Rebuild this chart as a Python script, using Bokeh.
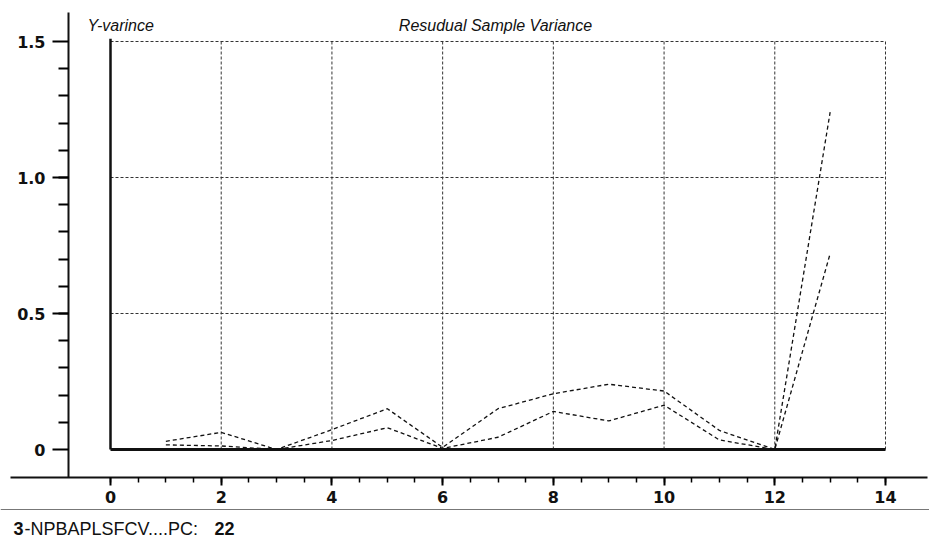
import numpy as np
from bokeh.plotting import figure
from bokeh.models import Range1d, FixedTicker, Label, Span
from bokeh.embed import file_html
from bokeh.resources import INLINE

# ---- data ----
components = [1, 2, 3, 4, 5, 6, 7, 8, 9, 10, 11, 12, 13]
variance_upper = [0.030, 0.063, 0.000, 0.073, 0.150, 0.008, 0.150, 0.205, 0.240, 0.215, 0.070, 0.000, 1.240]
variance_lower = [0.017, 0.013, 0.000, 0.033, 0.080, 0.004, 0.045, 0.140, 0.105, 0.163, 0.035, 0.000, 0.720]
x_major_ticks = [0, 2, 4, 6, 8, 10, 12, 14]
y_major_ticks = [0, 0.5, 1.0, 1.5]
y_tick_labels = ["0", "0.5", "1.0", "1.5"]
x_grid_ticks = [2, 4, 6, 8, 10, 12, 14]
y_grid_ticks = [0.5, 1.0, 1.5]
X_MIN, X_MAX = 0, 14
Y_MIN, Y_MAX = 0, 1.5

# ---- layout (pixels) ----
W, H = 929, 539
X0PX, X1PX = 110, 885
Y0PX, Y1PX = 449, 41
sx = (X1PX - X0PX) / (X_MAX - X_MIN)
sy = (Y0PX - Y1PX) / (Y_MAX - Y_MIN)

def dx(px):
    return (px - X0PX) / sx

def dy(py):
    return (Y0PX - py) / sy

p = figure(width=W, height=H, output_backend="svg", toolbar_location=None,
           x_range=Range1d(dx(0), dx(W)), y_range=Range1d(dy(H), dy(0)),
           min_border=0, min_border_left=0, min_border_right=0,
           min_border_top=0, min_border_bottom=0)
p.outline_line_color = None
p.grid.visible = False
p.background_fill_color = "white"
p.border_fill_color = "white"

x_axis_y = dy(477)
y_axis_x = dx(68)
TICK_FONT = "DejaVu Sans"

# x axis
xa = p.xaxis[0]
xa.fixed_location = x_axis_y
xa.bounds = (dx(10), dx(927))
xa.ticker = FixedTicker(ticks=x_major_ticks,
                        minor_ticks=[t / 2 for t in range(0, 29)])
xa.axis_line_width = 2
xa.axis_line_color = "#111111"
xa.major_tick_line_width = 2
xa.minor_tick_line_width = 1.5
xa.major_tick_out = 8
xa.major_tick_in = 0
xa.minor_tick_out = 5
xa.minor_tick_in = 0
xa.major_label_standoff = 5
xa.major_label_text_font = TICK_FONT
xa.major_label_text_font_style = "bold"
xa.major_label_text_font_size = "16px"
xa.major_label_text_color = "#111111"

# y axis
ya = p.yaxis[0]
ya.fixed_location = y_axis_x
ya.bounds = (x_axis_y, dy(12))
minor_y = [round(v, 1) for v in np.arange(0.1, 1.45, 0.1)]
ya.ticker = FixedTicker(ticks=y_major_ticks, minor_ticks=minor_y)
ya.major_label_overrides = {t: l for t, l in zip(y_major_ticks, y_tick_labels)}
ya.axis_line_width = 2
ya.axis_line_color = "#111111"
ya.major_tick_line_width = 2
ya.minor_tick_line_width = 2
ya.major_tick_out = 16
ya.major_tick_in = 0
ya.minor_tick_out = 10
ya.minor_tick_in = 0
ya.major_label_standoff = 7
ya.major_label_text_font = TICK_FONT
ya.major_label_text_font_style = "bold"
ya.major_label_text_font_size = "16px"
ya.major_label_text_color = "#111111"

# dashed grid
p.segment(x0=x_grid_ticks, y0=[Y_MIN] * len(x_grid_ticks),
          x1=x_grid_ticks, y1=[Y_MAX] * len(x_grid_ticks),
          line_color="#333333", line_width=1, line_dash="3 2")
p.segment(x0=[X_MIN] * len(y_grid_ticks), y0=y_grid_ticks,
          x1=[X_MAX] * len(y_grid_ticks), y1=y_grid_ticks,
          line_color="#333333", line_width=1, line_dash="3 2")

# solid frame lines (left and bottom)
p.segment(x0=[X_MIN], y0=[Y_MIN], x1=[X_MIN], y1=[Y_MAX + 0.01],
          line_color="#111111", line_width=2.5)
p.segment(x0=[X_MIN], y0=[Y_MIN], x1=[X_MAX], y1=[Y_MIN],
          line_color="#111111", line_width=3)

# data series
p.line(components, variance_upper, line_color="#111111", line_width=1.3, line_dash="4 3")
p.line(components, variance_lower, line_color="#111111", line_width=1.3, line_dash="4 3")

# bottom rule
p.add_layout(Span(location=dy(509), dimension="width", line_color="#777777", line_width=1))

# titles
p.add_layout(Label(x=dx(87), y=dy(25), text="Y-varince", text_font="Liberation Sans",
                   text_font_style="italic", text_font_size="16px", text_color="#111111",
                   text_baseline="alphabetic"))
p.add_layout(Label(x=dx(495), y=dy(25), text="Resudual Sample Variance", text_align="center",
                   text_font="Liberation Sans", text_font_style="italic",
                   text_font_size="16px", text_color="#111111", text_baseline="alphabetic"))

# footer label
base = dy(528)
p.add_layout(Label(x=dx(13), y=base, text="3", text_font="Liberation Sans",
                   text_font_style="bold", text_font_size="18px", text_color="#111111",
                   text_baseline="alphabetic"))
p.add_layout(Label(x=dx(24), y=base, text="-NPBAPLSFCV....PC:", text_font="Liberation Sans",
                   text_font_size="18px", text_color="#111111", text_baseline="alphabetic"))
p.add_layout(Label(x=dx(214), y=base, text="22", text_font="Liberation Sans",
                   text_font_style="bold", text_font_size="18px", text_color="#111111",
                   text_baseline="alphabetic"))

open("out.html", "w").write(file_html(p, INLINE))
